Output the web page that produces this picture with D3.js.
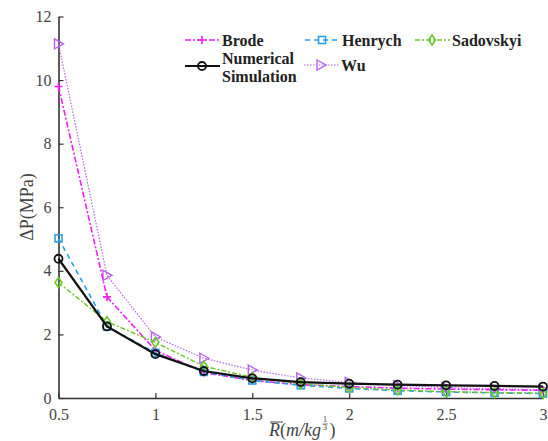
<!DOCTYPE html>
<html lang="en">
<head>
  <meta charset="UTF-8">
  <title>Overpressure</title>
  <script src="https://d3js.org/d3.v7.min.js"></script>
  <style>
    body { margin: 0; background: #fff; }
    svg text { font-family: "Liberation Serif", "Times New Roman", Tinos, "Noto Serif", "DejaVu Serif", serif !important; }
  </style>
</head>
<body>
  <div class="chartContainer"></div>
  <script>
    // scaled distance
    const xs = [0.5, 0.75, 1, 1.25, 1.5, 1.75, 2, 2.25, 2.5, 2.75, 3]
    const xTicks = [0.5, 1, 1.5, 2, 2.5, 3]
    const yTicks = [0, 2, 4, 6, 8, 10, 12]

    const brode = [9.8, 3.18, 1.5, 0.8, 0.55, 0.42, 0.36, 0.31, 0.28, 0.26, 0.24]
    const henrych = [5.02, 2.25, 1.42, 0.82, 0.55, 0.4, 0.3, 0.23, 0.19, 0.16, 0.14]
    const sadovskyi = [3.63, 2.4, 1.75, 1.0, 0.65, 0.45, 0.33, 0.25, 0.2, 0.17, 0.15]
    const numerical = [4.38, 2.25, 1.38, 0.85, 0.62, 0.5, 0.45, 0.42, 0.4, 0.38, 0.36]
    const wu = [11.14, 3.86, 1.92, 1.25, 0.88, 0.63, 0.49, 0.39, 0.33, 0.29, 0.26]

    const series = [
      { name: 'Brode', values: brode, color: '#ee22ee', dash: '6,2,2,2', width: 1.6, marker: 'plus' },
      { name: 'Henrych', values: henrych, color: '#2a9fe6', dash: '5,4', width: 1.6, marker: 'square' },
      { name: 'Sadovskyi', values: sadovskyi, color: '#6cc82a', dash: '5,2,2,2', width: 1.4, marker: 'diamond' },
      { name: 'Wu', values: wu, color: '#b865ee', dash: '1.5,1.5', width: 1.2, marker: 'tri' },
      { name: 'Numerical', values: numerical, color: '#111', dash: null, width: 2.2, marker: 'circle' }
    ]

    const W = 548, H = 441
    const svg = d3.select('.chartContainer')
      .append('svg')
      .attr('width', W)
      .attr('height', H)

    const x = d3.scaleLinear().domain([0.5, 3]).range([58.5, 543])
    const y = d3.scaleLinear().domain([0, 12]).range([398, 16.5])

    // axes (ticks point inward)
    const xAxis = svg.append('g')
      .attr('transform', `translate(0,${y(0)})`)
      .call(d3.axisBottom(x).tickValues(xTicks).tickSizeInner(-5).tickSizeOuter(0).tickPadding(11).tickFormat(d3.format('')))
    const yAxis = svg.append('g')
      .attr('transform', `translate(${x(0.5)},0)`)
      .call(d3.axisLeft(y).tickValues(yTicks).tickSizeInner(-5).tickSizeOuter(0).tickPadding(7))

    ;[xAxis, yAxis].forEach(g => {
      g.attr('font-family', null)
      g.select('.domain').attr('stroke', '#333').attr('stroke-width', 1.6)
      g.selectAll('.tick line').attr('stroke', '#333').attr('stroke-width', 1.2)
      g.selectAll('.tick text')
        .attr('fill', '#444')
        .style('font-size', '16px')
    })

    // markers
    function drawMarker(g, type, cx, cy, color) {
      if (type === 'plus') {
        g.append('path').attr('d', `M${cx - 4},${cy}H${cx + 4}M${cx},${cy - 4}V${cy + 4}`)
          .attr('stroke', color).attr('stroke-width', 1.6).attr('fill', 'none')
      } else if (type === 'square') {
        g.append('rect').attr('x', cx - 3.5).attr('y', cy - 3.5).attr('width', 7).attr('height', 7)
          .attr('stroke', color).attr('stroke-width', 1.6).attr('fill', 'none')
      } else if (type === 'diamond') {
        g.append('path').attr('d', `M${cx},${cy - 5}L${cx + 3.5},${cy}L${cx},${cy + 5}L${cx - 3.5},${cy}Z`)
          .attr('stroke', color).attr('stroke-width', 1.6).attr('fill', 'none')
      } else if (type === 'tri') {
        g.append('path').attr('d', `M${cx - 4},${cy - 5}L${cx + 5},${cy}L${cx - 4},${cy + 5}Z`)
          .attr('stroke', color).attr('stroke-width', 1.4).attr('fill', 'none')
      } else {
        g.append('circle').attr('cx', cx).attr('cy', cy).attr('r', 4)
          .attr('stroke', color).attr('stroke-width', 1.8).attr('fill', 'none')
      }
    }

    const line = d3.line().x((d, i) => x(xs[i])).y(d => y(d))
    const order = ['Wu', 'Brode', 'Henrych', 'Sadovskyi', 'Numerical']
    order.forEach(n => {
      const s = series.find(d => d.name === n)
      const g = svg.append('g')
      g.append('path')
        .attr('d', line(s.values))
        .attr('fill', 'none')
        .attr('stroke', s.color)
        .attr('stroke-width', s.width)
        .attr('stroke-dasharray', s.dash)
      s.values.forEach((v, i) => drawMarker(g, s.marker, x(xs[i]), y(v), s.color))
    })

    // legend
    const legendPos = [
      { name: 'Brode', lx: 185, ly: 40, label: ['Brode'] },
      { name: 'Henrych', lx: 305, ly: 40, label: ['Henrych'] },
      { name: 'Sadovskyi', lx: 415, ly: 40, label: ['Sadovskyi'] },
      { name: 'Numerical', lx: 185, ly: 66, label: ['Numerical', 'Simulation'] },
      { name: 'Wu', lx: 304, ly: 65, label: ['Wu'] }
    ]
    legendPos.forEach(p => {
      const s = series.find(d => d.name === p.name)
      const g = svg.append('g')
      g.append('line')
        .attr('x1', p.lx).attr('x2', p.lx + 35).attr('y1', p.ly).attr('y2', p.ly)
        .attr('stroke', s.color).attr('stroke-width', s.width).attr('stroke-dasharray', s.dash)
      drawMarker(g, s.marker, p.lx + 17, p.ly, s.color)
      const t = g.append('text')
        .attr('y', p.label.length > 1 ? 64 : p.ly + 5.5)
        .attr('fill', '#222')
        .style('font-size', '16px')
        .style('font-weight', 'bold')
      p.label.forEach((l, i) => {
        t.append('tspan').attr('x', p.lx + 37).attr('dy', i === 0 ? 0 : 18).text(l)
      })
    })

    // y label
    svg.append('text')
      .attr('transform', 'translate(33,207) rotate(-90)')
      .attr('text-anchor', 'middle')
      .attr('fill', '#444')
      .style('font-size', '18px')
      .text('ΔP(MPa)')

    // x label: R-bar (m/kg^(1/3))
    const xl = svg.append('g').attr('fill', '#444')
    const xt = xl.append('text')
      .attr('x', 269).attr('y', 436)
      .style('font-size', '18px')
      .style('font-style', 'italic')
    xt.append('tspan').text('R')
    xt.append('tspan').style('font-style', 'normal').text('(')
    xt.append('tspan').text('m/kg')
    const bb = xt.node().getBBox()
    xl.append('line')
      .attr('x1', 270).attr('x2', 283).attr('y1', 422).attr('y2', 422)
      .attr('stroke', '#444').attr('stroke-width', 1)
    const fx = bb.x + bb.width + 1.5
    xl.append('text').attr('x', fx + 2.5).attr('y', 422).attr('text-anchor', 'middle')
      .style('font-size', '8px').text('1')
    xl.append('line').attr('x1', fx).attr('x2', fx + 5).attr('y1', 424).attr('y2', 424)
      .attr('stroke', '#444').attr('stroke-width', 0.7)
    xl.append('text').attr('x', fx + 2.5).attr('y', 430).attr('text-anchor', 'middle')
      .style('font-size', '8px').text('3')
    xl.append('text').attr('x', fx + 7).attr('y', 436)
      .style('font-size', '18px').text(')')
  </script>
</body>
</html>
